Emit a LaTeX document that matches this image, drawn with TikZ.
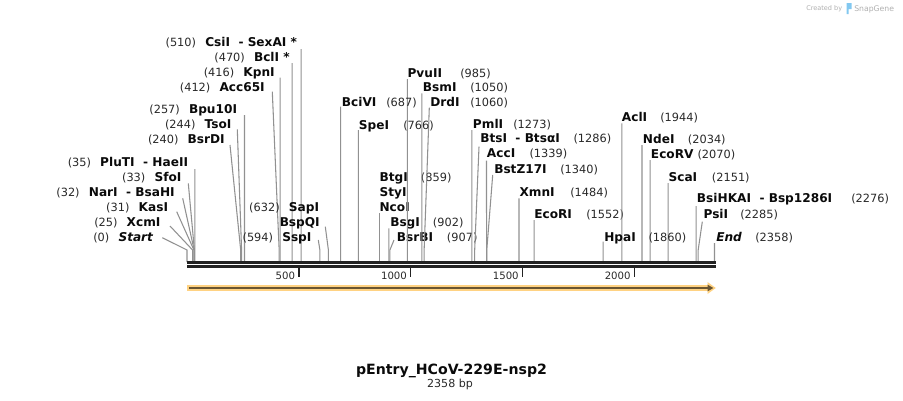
\documentclass[tikz,border=0pt]{standalone}
\usepackage{fontspec}
\setmainfont{DejaVu Sans}
\usetikzlibrary{calc}
\definecolor{conncol}{RGB}{145,145,145}
\definecolor{axiscol}{RGB}{34,34,34}
\definecolor{txt}{RGB}{10,10,10}
\definecolor{numcol}{RGB}{40,40,40}
\definecolor{featorange}{RGB}{255,210,130}
\definecolor{featdark}{RGB}{105,85,50}
\definecolor{logogray}{RGB}{175,175,175}
\definecolor{logoblue}{RGB}{130,200,240}
\tikzset{
  nm/.style={font=\fontsize{9.1}{10}\selectfont\bfseries, text=txt, inner sep=0pt},
  num/.style={font=\fontsize{8.5}{10}\selectfont, text=numcol, inner sep=0pt},
  conn/.style={draw=conncol, line width=0.8pt},
  axisline/.style={draw=axiscol, line width=2pt},
  tickline/.style={draw=axiscol, line width=1.1pt},
  ticklab/.style={font=\fontsize{7.6}{9}\selectfont, text=numcol, inner sep=0pt, anchor=base east},
}
% left-side label: id, name, pos, name end x, centre y, site bp, start x, start y
\newcommand\labL[8]{%
  \node[nm, anchor=base east] (n#1) at (#4,{#5+4.4}) {#2};
  \node[num, anchor=base east] (p#1) at ([xshift=-6.5pt]n#1.base west) {(#3)};
  \coordinate (a#1) at (#7,#8);
  \coordinate (k#1) at ({187+0.22371*#6},250);
  \coordinate (s#1) at ({187+0.22371*#6},262);
  \draw[conn] (a#1) -- (k#1) -- (s#1);
}
% right-side label: id, name, pos, name start x, centre y, number x, site bp, start x, start y
\newcommand\labR[9]{%
  \node[nm, anchor=base west] (n#1) at (#4,{#5+4.4}) {#2};
  \node[num, anchor=base west] (p#1) at (#6,{#5+4.4}) {(#3)};
  \coordinate (a#1) at (#8,#9);
  \coordinate (k#1) at ({187+0.22371*#7},250);
  \coordinate (s#1) at ({187+0.22371*#7},262);
  \draw[conn] (a#1) -- (k#1) -- (s#1);
}
\begin{document}
\begin{tikzpicture}[x=0.75pt, y=-0.75pt]
\useasboundingbox (0,0) rectangle (903,400);

% ---- left upper group
\labL{csi}{CsiI~~- SexAI *}{510}{297.3}{42.3}{510}{301.1}{49}
\labL{bcl}{BclI *}{470}{290}{57.3}{470}{292.1}{63}
\labL{kpn}{KpnI}{416}{275}{72.3}{416}{280.1}{77.7}
\labL{acc65}{Acc65I}{412}{265}{87.3}{412}{272.3}{91.7}
\labL{bpu}{Bpu10I}{257}{237.3}{109}{257}{244.5}{115}
\labL{tso}{TsoI}{244}{231.7}{124.3}{244}{237.3}{129.3}
\labL{bsrd}{BsrDI}{240}{225}{139.3}{240}{230}{145}

% ---- left lower group
\labL{plu}{PluTI~~- HaeII}{35}{188.3}{162}{35}{194.8}{169}
\labL{sfo}{SfoI}{33}{181.7}{176.7}{33}{188.3}{183.3}
\labL{nar}{NarI~~- BsaHI}{32}{175}{191.7}{32}{182.7}{198.3}
\labL{kas}{KasI}{31}{168.3}{206.7}{31}{176.7}{211.7}
\labL{xcm}{XcmI}{25}{160.7}{221.7}{25}{170}{226}
\labL{start}{\itshape Start}{0}{153.3}{236.7}{0}{162.3}{237.7}

% ---- SapI / BspQI / SspI
\node[nm, anchor=base east] (nsap) at (319.3,211.1) {SapI};
\node[num, anchor=base east] (psap) at ([xshift=-6.5pt]nsap.base west) {(632)};
\node[nm, anchor=base east] (nbspq) at (320,226.1) {BspQI};
\coordinate (absp) at (325.3,226.7);
\coordinate (kbsp) at ({187+0.22371*632},250);
\coordinate (sbsp) at ({187+0.22371*632},262);
\draw[conn] (absp) -- (kbsp) -- (sbsp);
\labL{ssp}{SspI}{594}{311.7}{237.3}{594}{318.3}{240}

% ---- BtgI / StyI / NcoI
\node[nm, anchor=base west] (nbtg) at (379.3,181.7) {BtgI};
\node[num, anchor=base west] (pbtg) at (420.7,181.7) {(859)};
\node[nm, anchor=base west] (nsty) at (379.3,196.4) {StyI};
\node[nm, anchor=base west] (nnco) at (379.3,211.1) {NcoI};
\coordinate (anco) at ({187+0.22371*859},213.3);
\coordinate (snco) at ({187+0.22371*859},262);
\draw[conn] (anco) -- (snco);
\labR{bsg}{BsgI}{902}{390}{221.7}{432.7}{902}{388.8}{228.3}
\labR{bsrb}{BsrBI}{907}{396.7}{237.3}{446.7}{907}{394}{240}

% ---- middle upper group
\labR{pvu}{PvuII}{985}{407.3}{72.7}{460}{985}{407.4}{79}
\labR{bsm}{BsmI}{1050}{422.7}{87.3}{470}{1050}{421.9}{93.3}
\labR{bci}{BciVI}{687}{341.7}{101.7}{386}{687}{340.7}{106.7}
\labR{drd}{DrdI}{1060}{430}{101.7}{470}{1060}{429.3}{107.7}
\labR{spe}{SpeI}{766}{358.7}{125}{403}{766}{358.4}{130}
\labR{pml}{PmlI}{1273}{472.7}{124.3}{513}{1273}{471.8}{130}
\labR{bts}{BtsI~~- BtsαI}{1286}{480}{138.3}{573.3}{1286}{479}{146.7}
\labR{acc}{AccI}{1339}{486.7}{153.3}{529.3}{1339}{486.5}{160.7}
\labR{bstz}{BstZ17I}{1340}{494}{169}{560}{1340}{492.7}{175}
\labR{xmn}{XmnI}{1484}{519.3}{191.7}{570}{1484}{519}{198.3}
\labR{ecori}{EcoRI}{1552}{534}{214.3}{586}{1552}{534.2}{220}

% ---- right group
\labR{acl}{AclI}{1944}{621.7}{116.7}{660}{1944}{621.9}{123.3}
\labR{nde}{NdeI}{2034}{642.7}{139.3}{687.7}{2034}{642}{145}
\labR{ecorv}{EcoRV}{2070}{650.7}{154}{697.3}{2070}{650.1}{160}
\labR{sca}{ScaI}{2151}{668.3}{176.7}{711.7}{2151}{668.2}{183}
\labR{bsihk}{BsiHKAI~~- Bsp1286I}{2276}{696.7}{198.3}{851}{2276}{696.2}{206}
\labR{psi}{PsiI}{2285}{703.3}{214.3}{740}{2285}{702.3}{221.7}
\labR{hpa}{HpaI}{1860}{604}{236.7}{648.3}{1860}{603.1}{241.7}
\labR{end}{\itshape End}{2358}{716}{236.7}{755}{2358}{714.5}{243}

% ---- axis
\draw[axisline] (187,262.3) -- (715.5,262.3);
\draw[axisline] (187,266.4) -- (715.5,266.4);
\foreach \t in {500,1000,1500,2000}{
  \draw[tickline] ({187+0.22371*\t},266) -- ({187+0.22371*\t},276.5);
  \node[ticklab] (tick\t) at ({187+0.22371*\t-3.6},279.5) {\t};
}

% ---- feature arrow
\fill[featorange] (187,285.2) -- (707.5,285.2) -- (707.5,282) -- (715.8,288) -- (707.5,294) -- (707.5,290.8) -- (187,290.8) -- cycle;
\fill[featdark] (189,287.2) -- (707.5,287.2) -- (707.5,284.6) -- (713.3,288) -- (707.5,291.4) -- (707.5,288.9) -- (189,288.9) -- cycle;

% ---- title
\node[font=\fontsize{10.6}{12}\selectfont\bfseries, text=txt, inner sep=0pt, anchor=base] (title) at (451.5,374.5) {pEntry\_HCoV-229E-nsp2};
\node[font=\fontsize{8.3}{10}\selectfont, text=numcol, inner sep=0pt, anchor=base] (bp) at (450,387.8) {2358 bp};

% ---- logo
\node[font=\fontsize{4.9}{6}\selectfont, text=logogray, inner sep=0pt, anchor=base west] (created) at (806,10.5) {Created by};
\fill[logoblue] (846.5,3) rectangle (851.5,9) (846.5,9) rectangle (848.5,14);
\node[font=\fontsize{5.8}{7}\selectfont, text=logogray, inner sep=0pt, anchor=base west] (snap) at (854,11.5) {SnapGene};
\end{tikzpicture}
\end{document}
